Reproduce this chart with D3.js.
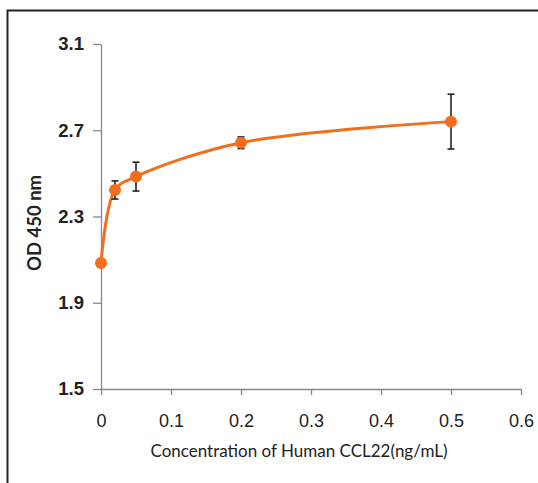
<!DOCTYPE html>
<html>
<head>
<meta charset="utf-8">
<script src="https://cdn.jsdelivr.net/npm/d3@7"></script>
<style>
  body { margin: 0; background: #fff; }
  svg { display: block; font-family: Lato, "Open Sans", sans-serif; }
</style>
</head>
<body>
<div id="chart"></div>
<script>
// data
var concentrations = [0, 0.02, 0.05, 0.2, 0.5];
var odValues       = [2.084, 2.423, 2.485, 2.642, 2.74];
var odErrors       = [0, 0.042, 0.067, 0.027, 0.127];
var xTicks = [0, 0.1, 0.2, 0.3, 0.4, 0.5, 0.6];
var yTicks = [1.5, 1.9, 2.3, 2.7, 3.1];

var width = 538, height = 483;
var ORANGE = "#f26d1d";

var svg = d3.select("#chart").append("svg")
    .attr("width", width)
    .attr("height", height);

/* Frame (right & bottom run off the picture) */
svg.append("rect")
    .attr("x", 7.5).attr("y", 10.5)
    .attr("width", 560).attr("height", 500)
    .attr("fill", "#fff")
    .attr("stroke", "#222")
    .attr("stroke-width", 2);

/* Scales */
var x = d3.scaleLinear().domain([0, 0.6]).range([101, 521]);
var y = d3.scaleLinear().domain([1.5, 3.1]).range([389, 44]);

/* Axes */
var xAxis = svg.append("g")
    .attr("transform", "translate(0," + y(1.5) + ")")
    .call(d3.axisBottom(x).tickValues(xTicks).tickSize(6).tickSizeOuter(0)
        .tickFormat(function(d){ return d === 0 ? "0" : d3.format(".1f")(d); }));
xAxis.selectAll("text")
    .attr("dy", null).attr("y", 38)
    .style("font-size", "18px").style("fill", "#222");

var yAxis = svg.append("g")
    .attr("transform", "translate(" + x(0) + ",0)")
    .call(d3.axisLeft(y).tickValues(yTicks).tickSize(8).tickSizeOuter(0)
        .tickFormat(d3.format(".1f")));
yAxis.selectAll("text")
    .attr("x", -17)
    .style("font-size", "18.5px").style("font-weight", "bold").style("fill", "#222");

svg.selectAll(".domain, .tick line")
    .attr("stroke", "#888")
    .attr("stroke-width", 1.3);

/* Axis titles */
svg.append("text")
    .attr("x", 299).attr("y", 457)
    .attr("text-anchor", "middle")
    .style("font-size", "17px").style("fill", "#222")
    .text("Concentration of Human CCL22(ng/mL)");

svg.append("text")
    .attr("transform", "translate(41,223) rotate(-90)")
    .attr("text-anchor", "middle")
    .style("font-size", "18.5px").style("font-weight", "bold").style("fill", "#222")
    .text("OD 450 nm");

/* Series */
var points = concentrations.map(function(c, i){
    return { x: c, y: odValues[i], e: odErrors[i] };
});

var line = d3.line()
    .x(function(d){ return x(d.x); })
    .y(function(d){ return y(d.y); })
    .curve(d3.curveCatmullRom.alpha(0.5));

svg.append("path")
    .datum(points)
    .attr("d", line)
    .attr("fill", "none")
    .attr("stroke", ORANGE)
    .attr("stroke-width", 3);

/* Error bars */
var err = svg.append("g").selectAll("g")
    .data(points.filter(function(d){ return d.e > 0; }))
    .enter().append("g")
        .attr("stroke", "#222")
        .attr("stroke-width", 1.6);
err.append("line")
    .attr("x1", function(d){ return x(d.x); })
    .attr("x2", function(d){ return x(d.x); })
    .attr("y1", function(d){ return y(d.y + d.e); })
    .attr("y2", function(d){ return y(d.y - d.e); });
err.selectAll(".cap")
    .data(function(d){ return [d.y + d.e, d.y - d.e].map(function(v){ return { x: d.x, v: v }; }); })
    .enter().append("line")
        .attr("class", "cap")
        .attr("x1", function(d){ return x(d.x) - 3.5; })
        .attr("x2", function(d){ return x(d.x) + 3.5; })
        .attr("y1", function(d){ return y(d.v); })
        .attr("y2", function(d){ return y(d.v); });

/* Markers */
svg.append("g").selectAll("circle")
    .data(points)
    .enter().append("circle")
        .attr("cx", function(d){ return x(d.x); })
        .attr("cy", function(d){ return y(d.y); })
        .attr("r", 6)
        .attr("fill", ORANGE);
</script>
</body>
</html>
